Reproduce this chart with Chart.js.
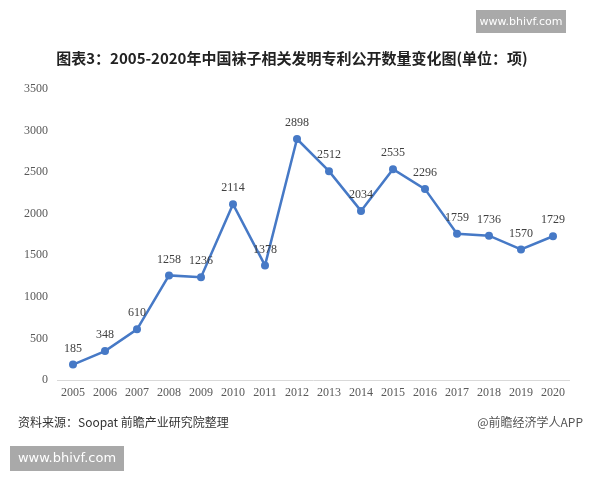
<!DOCTYPE html>
<html>
<head>
<meta charset="utf-8">
<script src="https://cdn.jsdelivr.net/npm/chart.js@4"></script>
<style>
  html, body { margin: 0; padding: 0; background: #fff; }
  #wrap { position: relative; width: 600px; height: 480px; }
</style>
</head>
<body>
<div id="wrap"><canvas id="chart_canvas" width="600" height="480"></canvas></div>
<script>
// data
const years = ['2005', '2006', '2007', '2008', '2009', '2010', '2011', '2012',
    '2013', '2014', '2015', '2016', '2017', '2018', '2019', '2020'];
const patents = [185, 348, 610, 1258, 1236, 2114, 1378, 2898,
    2512, 2034, 2535, 2296, 1759, 1736, 1570, 1729];
const yTicks = [0, 500, 1000, 1500, 2000, 2500, 3000, 3500];

const titleText = '图表3：2005-2020年中国袜子相关发明专利公开数量变化图(单位：项)';
const sourceText = '资料来源：Soopat 前瞻产业研究院整理';
const brandText = '@前瞻经济学人APP';
const siteText = 'www.bhivf.com';

const ctx = document.getElementById('chart_canvas');

// texts, boxes and point labels
const decor = {
    id: 'decor',
    afterDatasetsDraw(chart) {
        const c = chart.ctx;
        const meta = chart.getDatasetMeta(0);
        c.save();
        c.font = '12px "Liberation Serif", serif';
        c.fillStyle = '#404040';
        c.textAlign = 'center';
        c.textBaseline = 'middle';
        meta.data.forEach(function (pt, i) {
            c.fillText(String(patents[i]), pt.x, pt.y - 16);
        });
        c.restore();
    },
    afterDraw(chart) {
        const c = chart.ctx;
        c.save();
        c.fillStyle = '#222';
        c.font = 'bold 15px "Noto Sans CJK SC", sans-serif';
        c.textAlign = 'center';
        c.textBaseline = 'middle';
        c.fillText(titleText, 292, 58);

        c.font = '12px "Noto Sans CJK SC", sans-serif';
        c.textAlign = 'left';
        c.fillStyle = '#333';
        c.fillText(sourceText, 18, 422);
        c.textAlign = 'right';
        c.fillStyle = '#555';
        c.fillText(brandText, 583, 422);

        // site stamps
        c.fillStyle = '#a9a9a9';
        c.fillRect(476, 10, 90, 23);
        c.fillRect(10, 446, 114, 25);
        c.fillStyle = '#fff';
        c.textAlign = 'center';
        c.font = '11px "DejaVu Sans", sans-serif';
        c.fillText(siteText, 521, 22);
        c.font = '13px "DejaVu Sans", sans-serif';
        c.fillText(siteText, 67, 459);
        c.restore();
    }
};

var chartDraw = new Chart(ctx, {
    type: 'line',
    data: {
        labels: years,
        datasets: [{
            label: '专利公开数量',
            data: patents,
            borderColor: '#4679c6',
            backgroundColor: '#4679c6',
            borderWidth: 2.5,
            pointRadius: 4,
            pointBackgroundColor: '#4679c6',
            pointBorderWidth: 0,
            tension: 0
        }]
    },
    options: {
        responsive: false,
        animation: false,
        layout: {
            padding: { left: 0, right: 31, top: 89, bottom: 75 }
        },
        plugins: {
            legend: { display: false },
            tooltip: { enabled: false }
        },
        scales: {
            x: {
                offset: true,
                grid: { display: false, drawTicks: false },
                border: { display: true, color: '#d9d9d9', width: 1 },
                ticks: {
                    color: '#595959',
                    font: { family: '"Liberation Serif", serif', size: 12 },
                    padding: 6,
                    maxRotation: 0,
                    autoSkip: false
                },
                afterFit: function (scale) { scale.height = 25; }
            },
            y: {
                min: 0,
                max: 3500,
                afterBuildTicks: function (scale) {
                    scale.ticks = yTicks.map(function (v) { return { value: v }; });
                },
                grid: { display: false, drawTicks: false },
                border: { display: false },
                ticks: {
                    color: '#595959',
                    font: { family: '"Liberation Serif", serif', size: 12 },
                    padding: 9,
                    callback: function (v) { return String(v); }
                },
                afterFit: function (scale) { scale.width = 57; }
            }
        }
    },
    plugins: [decor]
});
</script>
</body>
</html>
